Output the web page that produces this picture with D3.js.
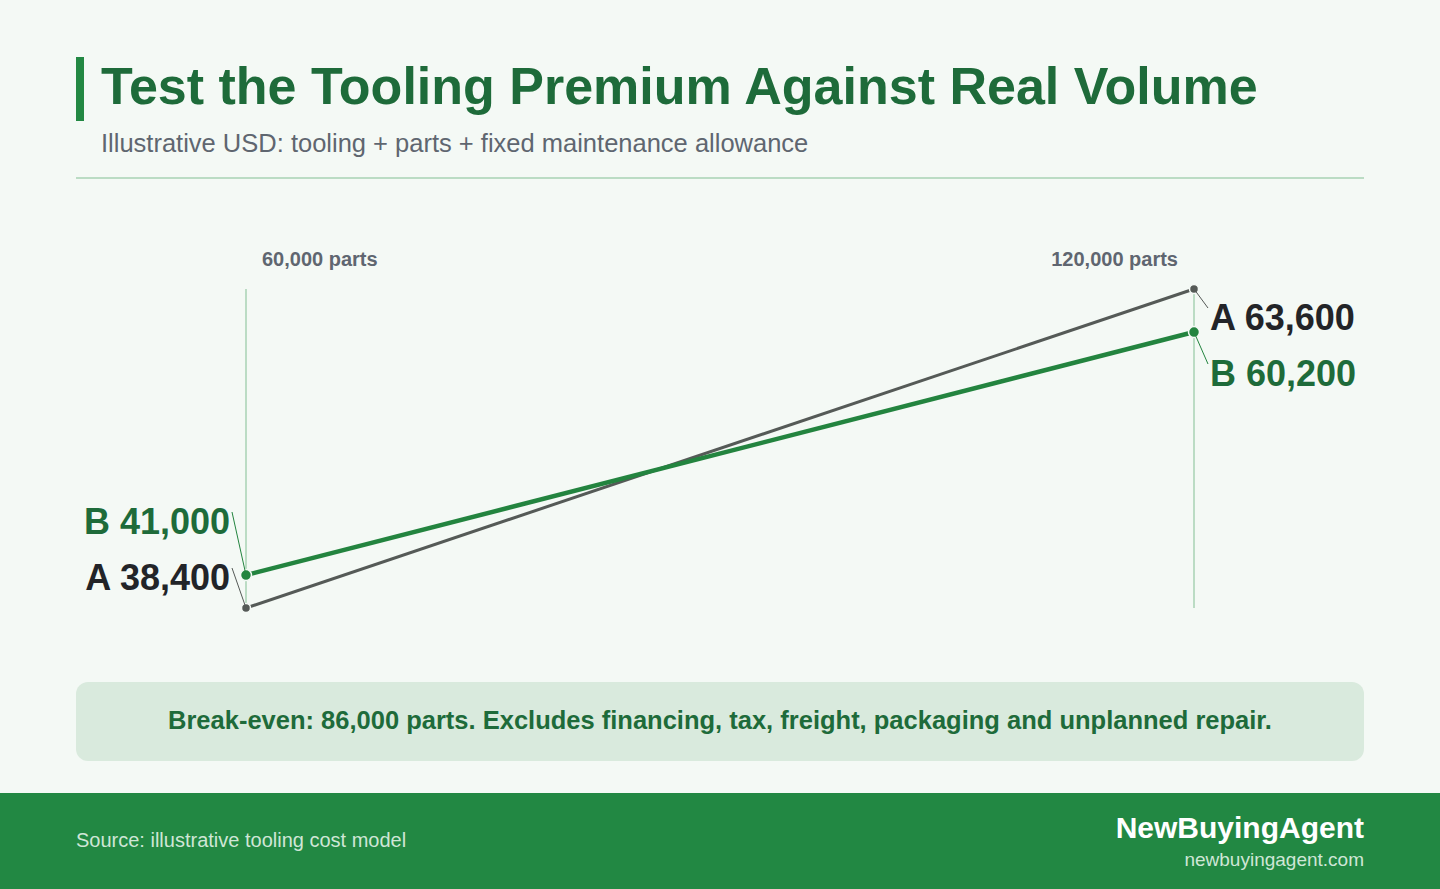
<!DOCTYPE html>
<html><head><meta charset="utf-8">
<script src="https://cdn.jsdelivr.net/npm/d3@7"></script>
<style>body{margin:0;background:#f4f9f5;font-family:"Liberation Sans",Arial,sans-serif}</style>
</head><body>
<script>
var volumes = [60000, 120000];
var volumeLabels = ["60,000 parts", "120,000 parts"];
var seriesA = [38400, 63600];
var seriesB = [41000, 60200];
var breakEven = "Break-even: 86,000 parts. Excludes financing, tax, freight, packaging and unplanned repair.";

var w = 1440, h = 889;
var svg = d3.select("body").append("svg").attr("width", w).attr("height", h);
svg.append("rect").attr("width", w).attr("height", h).attr("fill", "#f4f9f5");

// header
svg.append("rect").attr("x", 76).attr("y", 57).attr("width", 8).attr("height", 64).attr("fill", "#228843");
svg.append("text").attr("x", 101).attr("y", 104).attr("font-size", 52).attr("font-weight", "bold")
  .attr("fill", "#1e6b3a").text("Test the Tooling Premium Against Real Volume");
svg.append("text").attr("x", 101).attr("y", 152).attr("font-size", 25.5).attr("fill", "#5f6670")
  .text("Illustrative USD: tooling + parts + fixed maintenance allowance");
svg.append("line").attr("x1", 76).attr("x2", 1364).attr("y1", 178).attr("y2", 178)
  .attr("stroke", "#a9d2b3").attr("stroke-width", 1.5);

var x = d3.scaleLinear().domain([60000, 120000]).range([246, 1194]);
var y = d3.scaleLinear().domain([38400, 63600]).range([608, 289]);

volumes.forEach(function(v, i) {
  svg.append("line").attr("x1", x(v)).attr("x2", x(v)).attr("y1", 289).attr("y2", 608)
    .attr("stroke", "#a9d2b3").attr("stroke-width", 1.5);
  svg.append("text").attr("x", i == 0 ? x(v) + 16 : x(v) - 16).attr("y", 266)
    .attr("text-anchor", i == 0 ? "start" : "end")
    .attr("font-size", 20).attr("font-weight", "bold").attr("fill", "#5f6670").text(volumeLabels[i]);
});

var line = d3.line().x(function(d, i) { return x(volumes[i]); }).y(function(d) { return y(d); });
var series = [
  {name: "A", data: seriesA, color: "#555a57", text: "#222428", width: 3, r: 4.5},
  {name: "B", data: seriesB, color: "#23843f", text: "#1e6b3a", width: 4.5, r: 5.5}
];
series.forEach(function(s) {
  svg.append("path").attr("d", line(s.data)).attr("fill", "none")
    .attr("stroke", s.color).attr("stroke-width", s.width);
  svg.selectAll(null).data(s.data).enter().append("circle")
    .attr("cx", function(d, i) { return x(volumes[i]); })
    .attr("cy", function(d) { return y(d); })
    .attr("r", s.r).attr("fill", s.color).attr("stroke", "#f4f9f5").attr("stroke-width", 1.5);
});

// value labels with leader lines
var labels = [
  {s: series[1], i: 0, ly: 522},
  {s: series[0], i: 0, ly: 578},
  {s: series[0], i: 1, ly: 318},
  {s: series[1], i: 1, ly: 374}
];
labels.forEach(function(l) {
  var px = x(volumes[l.i]), py = y(l.s.data[l.i]);
  var left = l.i == 0;
  var lx = left ? px - 16 : px + 16;
  svg.append("line").attr("x1", px).attr("y1", py).attr("x2", left ? lx + 2 : lx - 2).attr("y2", l.ly - 10)
    .attr("stroke", l.s.color).attr("stroke-width", 1);
  svg.append("text").attr("x", lx).attr("y", l.ly + 12)
    .attr("text-anchor", left ? "end" : "start")
    .attr("font-size", 36).attr("font-weight", "bold").attr("fill", l.s.text)
    .text(l.s.name + " " + d3.format(",")(l.s.data[l.i]));
});

// callout
svg.append("rect").attr("x", 76).attr("y", 682).attr("width", 1288).attr("height", 79).attr("rx", 12)
  .attr("fill", "#d9eadd");
svg.append("text").attr("x", 720).attr("y", 729).attr("text-anchor", "middle")
  .attr("font-size", 25.5).attr("font-weight", "bold").attr("fill", "#1e6b3a").text(breakEven);

// footer
svg.append("rect").attr("x", 0).attr("y", 793).attr("width", w).attr("height", 96).attr("fill", "#228843");
svg.append("text").attr("x", 76).attr("y", 847).attr("font-size", 20).attr("fill", "#cfe6d6")
  .text("Source: illustrative tooling cost model");
svg.append("text").attr("x", 1364).attr("y", 838).attr("text-anchor", "end")
  .attr("font-size", 30).attr("font-weight", "bold").attr("fill", "#ffffff").text("NewBuyingAgent");
svg.append("text").attr("x", 1364).attr("y", 866).attr("text-anchor", "end")
  .attr("font-size", 19).attr("fill", "#cfe6d6").text("newbuyingagent.com");
</script>
</body></html>
